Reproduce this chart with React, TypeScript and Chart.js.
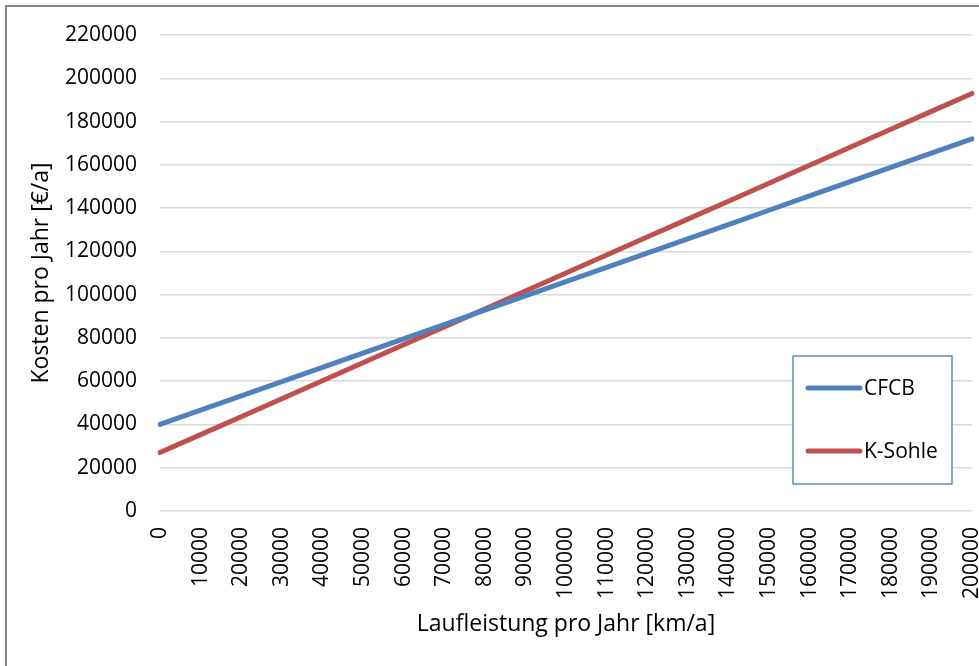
import React, { useEffect, useRef } from "react";
import { Chart, registerables } from "chart.js";

Chart.register(...registerables);

const xLabels: string[] = [
  "0", "10000", "20000", "30000", "40000", "50000", "60000", "70000", "80000", "90000", "100000",
  "110000", "120000", "130000", "140000", "150000", "160000", "170000", "180000", "190000", "200000",
];

const cfcbValues: number[] = [
  40000, 46600, 53200, 59800, 66400, 73000, 79600, 86200, 92800, 99400, 106000,
  112600, 119200, 125800, 132400, 139000, 145600, 152200, 158800, 165400, 172000,
];

const kSohleValues: number[] = [
  27000, 35300, 43600, 51900, 60200, 68500, 76800, 85100, 93400, 101700, 110000,
  118300, 126600, 134900, 143200, 151500, 159800, 168100, 176400, 184700, 193000,
];

const seriesNames: string[] = ["CFCB", "K-Sohle"];
const seriesColors: string[] = ["#4F81BD", "#C0504D"];

const yMin = 0;
const yMax = 220000;
const yStep = 20000;

const xTitle = "Laufleistung pro Jahr [km/a]";
const yTitle = "Kosten pro Jahr [€/a]";

const FONT = "'Open Sans', Lato, sans-serif";
const FONT_SIZE = 21;
const TITLE_SIZE = 23;

const framePlugin = {
  id: "frame",
  beforeDraw(chart: any) {
    const ctx = chart.ctx;
    ctx.save();
    ctx.fillStyle = "#ffffff";
    ctx.fillRect(0, 0, chart.width, chart.height);
    ctx.strokeStyle = "#858585";
    ctx.lineWidth = 2;
    ctx.strokeRect(6, 6, chart.width + 20, chart.height + 20);
    ctx.restore();
  },
};

const insideLegendPlugin = {
  id: "insideLegend",
  afterDraw(chart: any) {
    const ctx = chart.ctx;
    const area = chart.chartArea;
    const w = 159;
    const h = 128;
    const right = area.right - 20;
    const bottom = area.bottom - 27;
    const left = right - w;
    const top = bottom - h;
    ctx.save();
    ctx.fillStyle = "#ffffff";
    ctx.fillRect(left, top, w, h);
    ctx.strokeStyle = "#5B8BC7";
    ctx.lineWidth = 1.5;
    ctx.strokeRect(left, top, w, h);
    const rows = chart.data.datasets;
    const rowYs = [top + 32, top + 95];
    rows.forEach((ds: any, i: number) => {
      const y = rowYs[i];
      ctx.strokeStyle = ds.borderColor;
      ctx.lineWidth = 5;
      ctx.lineCap = "round";
      ctx.beginPath();
      ctx.moveTo(left + 15, y);
      ctx.lineTo(left + 67, y);
      ctx.stroke();
      ctx.fillStyle = "#000000";
      ctx.font = `${FONT_SIZE}px ${FONT}`;
      ctx.textBaseline = "middle";
      ctx.textAlign = "left";
      ctx.fillText(ds.label, left + 71, y + 1);
    });
    ctx.restore();
  },
};

export default function App() {
  const ref = useRef<HTMLCanvasElement | null>(null);

  useEffect(() => {
    document.body.style.margin = "0";
    if (!ref.current) return;
    const chart = new Chart(ref.current, {
      type: "line",
      data: {
        labels: xLabels,
        datasets: [
          {
            label: seriesNames[0],
            data: cfcbValues,
            borderColor: seriesColors[0],
            backgroundColor: seriesColors[0],
            borderWidth: 5,
            pointRadius: 0,
            tension: 0,
            borderCapStyle: "round",
            fill: false,
          },
          {
            label: seriesNames[1],
            data: kSohleValues,
            borderColor: seriesColors[1],
            backgroundColor: seriesColors[1],
            borderWidth: 5,
            pointRadius: 0,
            tension: 0,
            borderCapStyle: "round",
            fill: false,
          },
        ],
      },
      options: {
        animation: false,
        responsive: false,
        layout: { padding: { top: 35, right: 7, bottom: 0, left: 0 } },
        plugins: {
          legend: { display: false },
          tooltip: { enabled: false },
        },
        scales: {
          x: {
            type: "category",
            offset: false,
            grid: { display: false, drawTicks: false },
            border: { display: false },
            ticks: {
              autoSkip: false,
              minRotation: 90,
              maxRotation: 90,
              padding: 16,
              color: "#000000",
              font: { family: FONT, size: FONT_SIZE },
            },
            title: {
              display: true,
              text: xTitle,
              color: "#000000",
              font: { family: FONT, size: TITLE_SIZE },
              padding: { top: 0, bottom: 28 },
            },
            afterFit(s: any) {
              s.height = 155;
              s.paddingLeft = 0;
              s.paddingRight = 0;
            },
          },
          y: {
            min: yMin,
            max: yMax,
            grid: { color: "#D9D9D9", lineWidth: 1.5, drawTicks: false },
            border: { display: false },
            ticks: {
              stepSize: yStep,
              padding: 23,
              color: "#000000",
              font: { family: FONT, size: FONT_SIZE },
              callback: (v: any) => String(v),
            },
            title: {
              display: true,
              text: yTitle,
              color: "#000000",
              font: { family: FONT, size: TITLE_SIZE },
              padding: { top: 28, bottom: 0 },
            },
            afterFit(s: any) {
              s.width = 160;
              s.paddingTop = 0;
              s.paddingBottom = 0;
            },
          },
        },
      },
      plugins: [framePlugin, insideLegendPlugin],
    });
    return () => chart.destroy();
  }, []);

  return (
    <div style={{ width: 979, height: 666 }}>
      <canvas ref={ref} width={979} height={666} style={{ display: "block" }} />
    </div>
  );
}
